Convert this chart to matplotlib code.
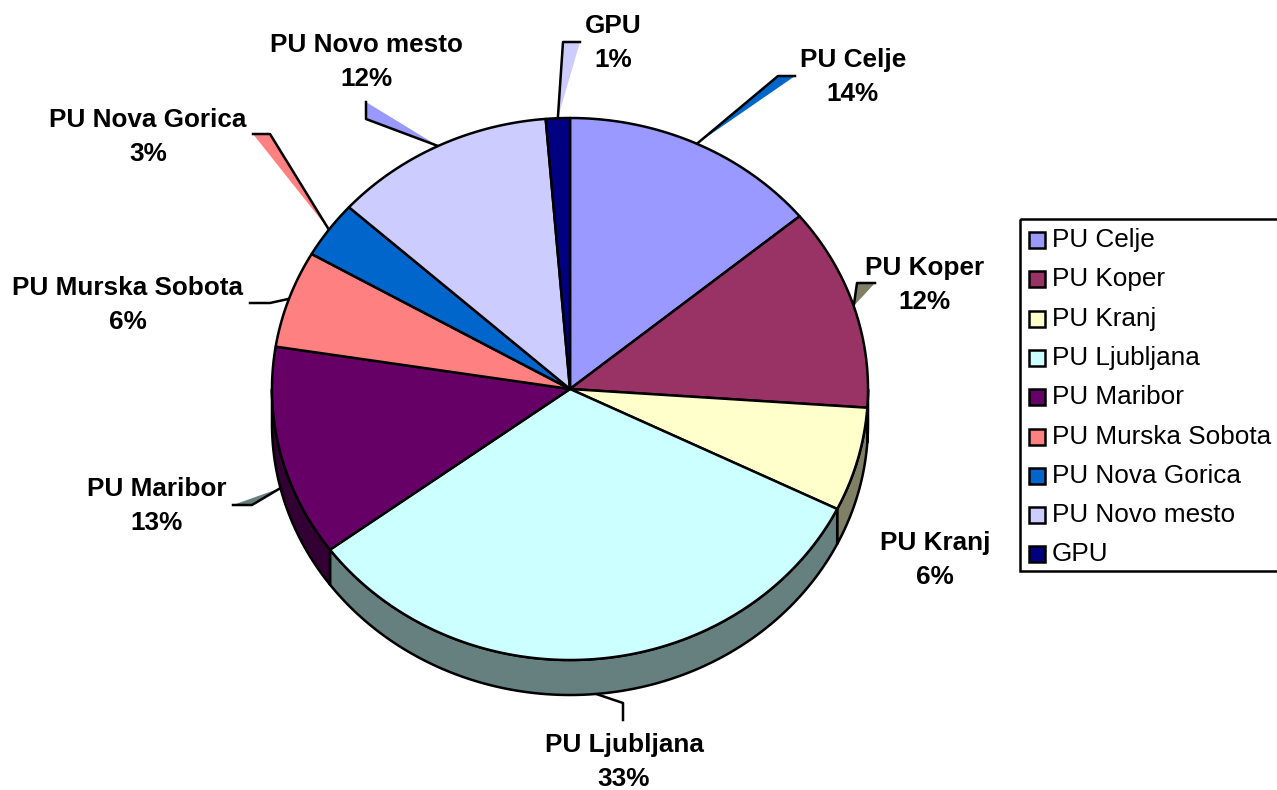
import matplotlib
matplotlib.use('Agg')
import matplotlib.pyplot as plt
import matplotlib.patches as mpatches
import matplotlib.colors as mcolors
import numpy as np

plt.rcParams['font.family'] = ['Liberation Sans', 'DejaVu Sans']

########  data  ########
categories = ['PU Celje', 'PU Koper', 'PU Kranj', 'PU Ljubljana', 'PU Maribor',
              'PU Murska Sobota', 'PU Nova Gorica', 'PU Novo mesto', 'GPU']
shares = [14.0, 12.1, 6.2, 32.6, 12.6, 5.8, 3.4, 12.0, 1.3]
colors = ['#9999FF', '#993366', '#FFFFCC', '#CCFFFF', '#660066',
          '#FF8080', '#0066CC', '#CCCCFF', '#000080']

########  layout (pixels)  ########
cx, cy, rx, ry, depth = 570, 389, 298, 271, 35
label_pos = [(853, 77), (925, 285), (935, 560), (624, 762), (157, 506),
             (128, 305), (148, 137), (366, 62), (613, 43)]
leader_pts = [[(778, 76), (795, 76)], [(857, 283), (875, 283)], None,
              [(623, 703), (623, 720)], [(252, 505), (233, 505)],
              [(270, 303), (250, 303)], [(270, 134), (253, 134)],
              [(366, 119), (366, 102)], [(563, 42), (580, 42)]]
leader_fill = ['#0066CC', '#808066', None, None, '#668080', None,
               '#FF8080', '#9999FF', '#CCCCFF']
LW = 1.8


def pt(t, dz=0):
    r = np.radians(t)
    return (cx + rx * np.sin(r), cy - ry * np.cos(r) + dz)


def arc(a0, a1, dz=0):
    n = max(2, int(abs(a1 - a0) * 2) + 2)
    return [pt(t, dz) for t in np.linspace(a0, a1, n)]


fig = plt.figure(figsize=(12.77, 7.9), dpi=100)
ax = fig.add_axes([0, 0, 1, 1])
ax.set_xlim(0, 1277)
ax.set_ylim(790, 0)
ax.axis('off')

total = sum(shares)
bounds = np.concatenate([[0], np.cumsum(shares) / total * 360])

# side walls (front half only)
for i in range(len(shares)):
    s = max(bounds[i], 90)
    e = min(bounds[i + 1], 270)
    if e > s:
        dark = tuple(np.array(mcolors.to_rgb(colors[i])) * 0.5)
        poly = arc(s, e) + arc(e, s, depth)
        ax.add_patch(mpatches.Polygon(poly, closed=True, fc=dark, ec='black',
                                      lw=LW, joinstyle='round', zorder=2))

# top wedges
for i in range(len(shares)):
    poly = [(cx, cy)] + arc(bounds[i], bounds[i + 1])
    ax.add_patch(mpatches.Polygon(poly, closed=True, fc=colors[i], ec='black',
                                  lw=LW, joinstyle='round', zorder=3))

# leader lines + labels
for i in range(len(shares)):
    m = (bounds[i] + bounds[i + 1]) / 2
    start = pt(m, depth if 90 < m < 270 else 0)
    if leader_pts[i] is not None:
        path = [start] + leader_pts[i]
        if leader_fill[i] is not None:
            ax.add_patch(mpatches.Polygon(path, closed=True, fc=leader_fill[i],
                                          ec='none', zorder=1))
        xs, ys = zip(*path)
        ax.plot(xs, ys, color='black', lw=LW, zorder=1.2)
    pct = round(shares[i] / total * 100)
    ax.text(label_pos[i][0], label_pos[i][1], f'{categories[i]}\n{pct}%',
            ha='center', va='center', fontsize=18.8, fontweight='bold',
            linespacing=1.55, zorder=4)

# legend box
ax.add_patch(mpatches.Rectangle((1020, 219), 290, 352, fill=False,
                                ec='black', lw=LW, zorder=4))
for i, name in enumerate(categories):
    y = 240 + i * 39.3
    ax.add_patch(mpatches.Rectangle((1029, y - 8), 16, 16, fc=colors[i],
                                    ec='black', lw=LW, zorder=5))
    ax.text(1052, y, name, ha='left', va='center', fontsize=18.8, zorder=5)

fig.savefig('out.png', dpi=100)
